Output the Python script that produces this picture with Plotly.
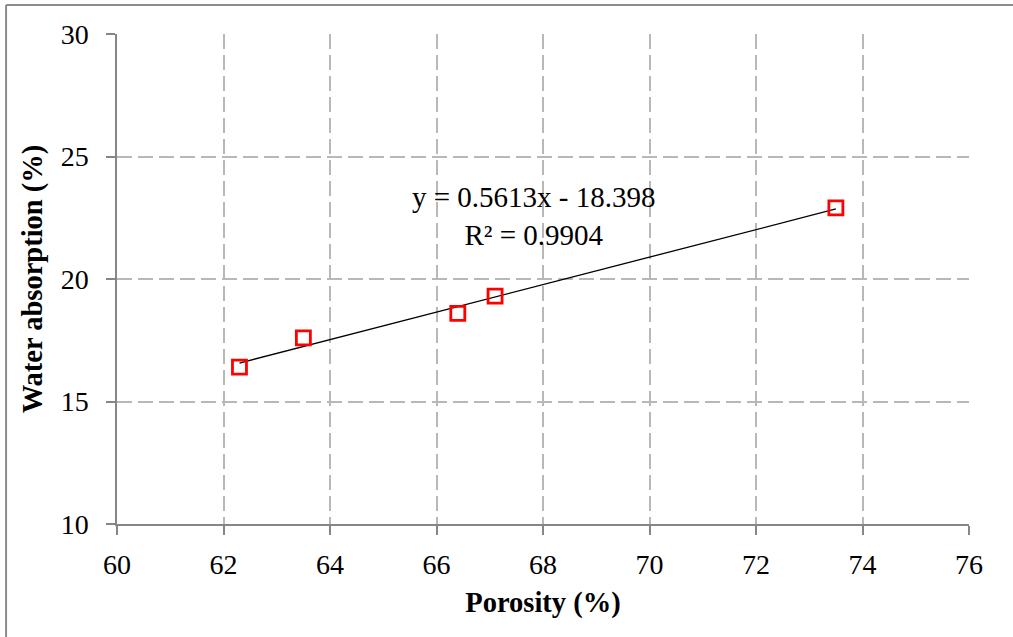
import plotly.graph_objects as go

porosity = [62.3, 63.5, 66.4, 67.1, 73.5]
water_absorption = [16.4, 17.6, 18.6, 19.3, 22.9]
slope = 0.5613
intercept = -18.398
r_squared = 0.9904
x_ticks = [60, 62, 64, 66, 68, 70, 72, 74, 76]
y_ticks = [10, 15, 20, 25, 30]

FONT = "Liberation Serif, Times New Roman, serif"

trend_x = [min(porosity), max(porosity)]
trend_y = [slope * v + intercept for v in trend_x]

fig = go.Figure()
fig.add_trace(go.Scatter(x=trend_x, y=trend_y, mode="lines",
                         line=dict(color="black", width=1.3), showlegend=False,
                         hoverinfo="skip"))
fig.add_trace(go.Scatter(x=porosity, y=water_absorption, mode="markers",
                         marker=dict(symbol="square-open", size=14, color="#ff0000",
                                     line=dict(width=2.8, color="#ff0000")),
                         showlegend=False))

fig.add_annotation(x=67.83, y=22.59, xref="x", yref="y", showarrow=False,
                   text=f"y = {slope}x - {abs(intercept)}<br>R² = {r_squared}",
                   font=dict(family=FONT, size=29, color="black"), align="center")

axis_common = dict(showline=True, linecolor="#868686", linewidth=1.5,
                   ticks="outside", ticklen=9, tickcolor="#868686", tickwidth=1.5,
                   showgrid=True, gridcolor="#b8b8b8", gridwidth=1.6,
                   griddash="15px,6px", zeroline=False,
                   tickfont=dict(family=FONT, size=28, color="black"))

fig.update_xaxes(range=[60, 76], tickvals=x_ticks, ticktext=[str(v) for v in x_ticks],
                 title=dict(text="<b>Porosity (%)</b>", font=dict(family=FONT, size=28.5, color="black"),
                            standoff=13),
                 ticklabelstandoff=6, **axis_common)
fig.update_yaxes(range=[10, 30], tickvals=y_ticks, ticktext=[str(v) for v in y_ticks],
                 title=dict(text="<b>Water absorption (%)</b>", font=dict(family=FONT, size=28.5, color="black"),
                            standoff=10),
                 ticklabelstandoff=12, **axis_common)

# outer chart-area frame (only left and top edges visible in the crop)
fig.add_shape(type="line", xref="paper", yref="paper",
              x0=-0.1302, y0=-0.5, x1=-0.1302, y1=1.0592,
              line=dict(color="#8c8c8c", width=2), layer="below")
fig.add_shape(type="line", xref="paper", yref="paper",
              x0=-0.1302, y0=1.0592, x1=1.5, y1=1.0592,
              line=dict(color="#8c8c8c", width=2), layer="below")

fig.update_layout(width=1013, height=637, paper_bgcolor="white", plot_bgcolor="white",
                  margin=dict(l=117, r=44, t=34, b=113, autoexpand=False),
                  font=dict(family=FONT, color="black"))

fig.write_html("out.html")
